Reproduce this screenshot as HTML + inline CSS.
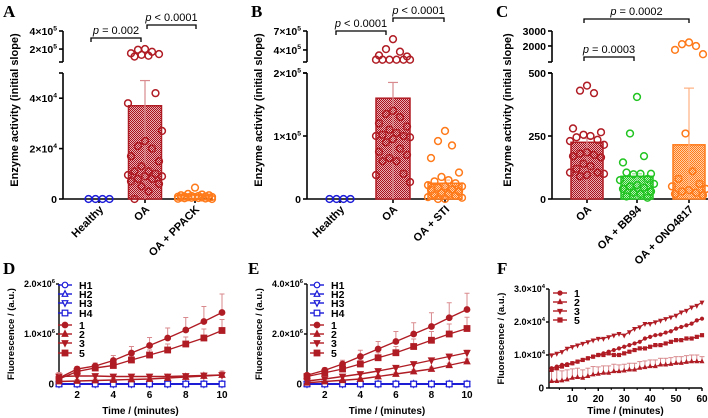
<!DOCTYPE html>
<html><head><meta charset="utf-8"><style>
html,body{margin:0;padding:0;background:#fff;}
svg{display:block;font-family:"Liberation Sans",sans-serif;}
</style></head><body>
<svg id="fig" width="708" height="418" viewBox="0 0 708 418" xmlns="http://www.w3.org/2000/svg">
<defs>
<pattern id="hatRed" width="2" height="2" patternUnits="userSpaceOnUse"><rect width="2" height="2" fill="#e8b0b4"/><rect width="1" height="1" fill="#a8101c"/><rect x="1" y="1" width="1" height="1" fill="#a8101c"/></pattern>
<pattern id="hatOrange" width="2" height="2" patternUnits="userSpaceOnUse"><rect width="2" height="2" fill="#ffd0a8"/><rect width="1" height="1" fill="#ff7a1a"/><rect x="1" y="1" width="1" height="1" fill="#ff7a1a"/></pattern>
<pattern id="hatGreen" width="2" height="2" patternUnits="userSpaceOnUse"><rect width="2" height="2" fill="#b8f0b8"/><rect width="1" height="1" fill="#22c422"/><rect x="1" y="1" width="1" height="1" fill="#22c422"/></pattern>
</defs>
</svg>
<script>
// ---------- DATA ----------
const catsA = ["Healthy","OA","OA + PPACK"];
const healthyA = [0,0,0,0];
const oaA = [200000,195000,180000,170000,165000,160000,155000,150000,42000,38000,27000,23000,21000,20000,17000,15000,13000,11000,11000,10000,9500,9000,9000,8000,8000,7000,6000,5000,3000,0];
const ppackA = [4500,2000,1800,1500,1500,1200,1200,1000,1000,900,800,800,700,600,600,500,500,400,300,200,100,0];
const barsA = [0,37000,1000];
const errA = [0,47000,1400];

const catsB = ["Healthy","OA","OA + STI"];
const healthyB = [0,0,0,0];
const oaB = [550000,410000,380000,340000,330000,300000,300000,300000,300000,300000,300000,140000,135000,130000,120000,115000,110000,105000,102000,100000,100000,98000,95000,90000,80000,75000,70000,65000,60000,60000,40000,38000,27000];
const stiB = [108000,92000,85000,65000,42000,35000,30000,28000,25000,22000,20000,20000,18000,15000,15000,12000,10000,8000,6000,5000,3000,2000,0,0];
const barsB = [0,160000,25000];
const errB = [0,185000,30000];

const catsC = ["OA","OA + BB94","OA + ONO4817"];
const oaC = [450,430,420,280,265,255,250,245,235,230,215,185,180,175,170,165,140,130,120,105,105,100,95,90];
const bbC = [405,260,170,145,100,98,100,105,80,75,60,55,50,45,40,30,25,20,10,5];
const onoC = [2200,2100,2000,1800,1600,260,110,80,60,50,40,35,30,25,20,15];
const barsC = [225,90,215];
const errC = [240,100,440];

const timeDE = [1,2,3,4,5,6,7,8,9,10];
const d1 = [0.12,0.3,0.36,0.47,0.62,0.77,0.92,1.08,1.25,1.43];
const d2 = [0.05,0.06,0.07,0.08,0.09,0.1,0.12,0.14,0.16,0.18];
const d3 = [0.15,0.16,0.16,0.15,0.15,0.15,0.15,0.16,0.17,0.18];
const d5 = [0.1,0.25,0.32,0.37,0.48,0.58,0.68,0.8,0.92,1.07];
const d1e = [0.1,0.05,0.06,0.1,0.13,0.16,0.2,0.25,0.3,0.37];
const d5e = [0.06,0.05,0.05,0.06,0.08,0.1,0.12,0.14,0.18,0.22];
const d2e = [0.03,0.03,0.03,0.03,0.03,0.03,0.04,0.05,0.06,0.08];
const d3e = [0.08,0.05,0.04,0.04,0.04,0.04,0.04,0.04,0.05,0.06];
const dH = [0,0,0,0,0,0,0,0,0,0];

const e1 = [0.35,0.55,0.8,1.1,1.4,1.7,2.0,2.3,2.65,2.98];
const e2 = [0.05,0.1,0.15,0.2,0.3,0.4,0.5,0.6,0.75,0.9];
const e3 = [0.12,0.2,0.3,0.4,0.52,0.65,0.8,0.95,1.1,1.25];
const e5 = [0.3,0.45,0.6,0.8,1.05,1.25,1.5,1.75,2.0,2.22];
const e1e = [0.05,0.1,0.15,0.25,0.3,0.4,0.45,0.55,0.6,0.65];
const e5e = [0.04,0.08,0.1,0.15,0.2,0.25,0.3,0.35,0.4,0.45];
const e3e = [0.03,0.04,0.05,0.05,0.06,0.07,0.08,0.08,0.1,0.1];
const e2e = [0.02,0.03,0.04,0.04,0.05,0.05,0.06,0.07,0.08,0.1];

const timeF = [2,4,6,8,10,12,14,16,18,20,22,24,26,28,30,32,34,36,38,40,42,44,46,48,50,52,54,56,58,60];
const f3 = [1.0,1.05,1.1,1.2,1.25,1.3,1.35,1.4,1.45,1.5,1.5,1.55,1.6,1.65,1.6,1.7,1.8,1.85,1.95,1.95,2.0,2.05,2.1,2.15,2.2,2.3,2.35,2.45,2.5,2.6];
const f1 = [0.6,0.65,0.7,0.72,0.75,0.8,0.85,0.9,0.95,1.0,1.05,1.1,1.15,1.2,1.25,1.3,1.35,1.4,1.5,1.55,1.6,1.62,1.68,1.72,1.8,1.85,1.9,1.95,2.05,2.1];
const f5 = [0.55,0.6,0.65,0.7,0.75,0.8,0.85,0.9,0.95,1.0,1.0,1.05,1.0,1.0,1.05,1.1,1.15,1.2,1.2,1.25,1.3,1.3,1.35,1.4,1.45,1.45,1.5,1.5,1.55,1.6];
const f2 = [0.2,0.2,0.22,0.25,0.3,0.32,0.3,0.35,0.4,0.42,0.45,0.45,0.5,0.5,0.52,0.55,0.55,0.6,0.62,0.65,0.65,0.7,0.7,0.72,0.75,0.75,0.78,0.8,0.8,0.8];
const f2e = [0.35,0.35,0.3,0.3,0.28,0.28,0.25,0.25,0.25,0.22,0.22,0.22,0.22,0.2,0.2,0.2,0.2,0.2,0.2,0.2,0.2,0.2,0.2,0.2,0.2,0.2,0.2,0.2,0.2,0.15];

// ---------- HELPERS ----------
const NS = "http://www.w3.org/2000/svg";
const svg = document.getElementById('fig');
const RED = "#b01c24", LRED = "#d88a8e", BLUE = "#1a1ad8", ORANGE = "#ff7a1a", GREEN = "#22c422";
function mk(tag, attrs, parent){
  const e = document.createElementNS(NS, tag);
  for (const k in attrs) e.setAttribute(k, attrs[k]);
  (parent || svg).appendChild(e);
  return e;
}
function line(x1,y1,x2,y2,stroke,w,g){ return mk('line',{x1,y1,x2,y2,stroke,'stroke-width':w},g); }
function txt(x,y,s,size,anchor,g,extra){
  const t = mk('text',Object.assign({x,y,'font-size':size,'font-weight':'bold','text-anchor':anchor||'middle',fill:'#000'},extra||{}),g);
  t.textContent = s; return t;
}
function sciLabel(x,y,mant,exp,g,size){
  size = size||10.5;
  const t = mk('text',{x,y,'font-size':size,'font-weight':'bold','text-anchor':'end',fill:'#000'},g);
  t.appendChild(document.createTextNode(mant+"×10"));
  const sp = mk('tspan',{'font-size':size*0.65,dy:-size*0.45},t);
  sp.textContent = exp;
  return t;
}
const jit = [0,-7,7,-14,14,-3.5,3.5,-10.5,10.5,-17,17];

// ---------- BAR PANELS ----------
function barPanel(cfg){
  const g = mk('g',{});
  
  
  const yLow = v => 199 - v/cfg.lowMax*126;
  const yUp = v => cfg.upRefY - (Math.log10(v)-Math.log10(cfg.upRef))*cfg.ppd;
  const y = v => v > cfg.lowMax ? yUp(v) : yLow(v);
  const ax = cfg.ax;
  const xc = i => cfg.xs[i];
  const L = mk('text',{x:cfg.letterX,y:17,'font-size':17,'font-weight':'bold','font-family':'"Liberation Serif",serif'},g);
  L.textContent = cfg.letter;
  
  
  const ya = mk('g',{},g);
  
  
  line(ax,199,ax,73,'#000',1.6,ya);
  line(ax,62,ax,31,'#000',1.6,ya);
  line(ax-4,73,ax,73,'#000',1.6,ya);
  line(ax-4,62,ax,62,'#000',1.6,ya);
  cfg.lowTicks.forEach((v,i)=>{
    line(ax-4,yLow(v),ax,yLow(v),'#000',1.6,ya);
    const lb = cfg.lowLabels[i];
    if (lb[1]) sciLabel(ax-6,yLow(v)+4,lb[0],lb[1],ya); else txt(ax-6,yLow(v)+4,lb[0],10.5,'end',ya);
  });
  cfg.upTicks.forEach((v,i)=>{
    line(ax-4,yUp(v),ax,yUp(v),'#000',1.6,ya);
    const lb = cfg.upLabels[i];
    if (lb[1]) sciLabel(ax-6,yUp(v)+4,lb[0],lb[1],ya); else txt(ax-6,yUp(v)+4,lb[0],10.5,'end',ya);
  });
  const yt = txt(0,0,"Enzyme activity (initial slope)",11,'middle',g,{transform:`translate(${cfg.titleX},110) rotate(-90)`});
  
  
  const xa = mk('g',{},g);
  
  
  line(ax,199,cfg.xEnd,199,'#000',1.6,xa);
  cfg.cats.forEach((c,i)=>{
    line(xc(i),199,xc(i),203,'#000',1.6,xa);
    const t = txt(0,0,c,11,'end',xa,{transform:`translate(${xc(i)+5},210) rotate(-45)`});
    
    
  });
  cfg.bars.forEach((v,i)=>{
    if (v<=0 || !cfg.fills[i]) return;
    const b = mk('rect',{x:xc(i)-cfg.bw/2,y:yLow(v),width:cfg.bw,height:199-yLow(v),fill:cfg.fills[i],stroke:cfg.colors[i],'stroke-width':1.5},g);
    
    
    const ev = cfg.errs[i];
    const ey = ev > cfg.lowMax ? yUp(ev) : yLow(ev);
    const eb = mk('g',{},g);
    
    
    line(xc(i),199,xc(i),ey,cfg.lcolors[i],1.2,eb);
    line(xc(i)-5,ey,xc(i)+5,ey,cfg.lcolors[i],1.2,eb);
  });
  cfg.groups.forEach((arr,i)=>{
    const pg = mk('g',{},g);
    
    
    arr.forEach((v,k)=>{
      const off = arr===cfg.groups[0] && cfg.healthyFirst ? (k-1.5)*7 : jit[k%jit.length];
      const c = mk('circle',{cx:xc(i)+off,cy:y(v),r:3.4,fill:'none',stroke:cfg.colors[i],'stroke-width':1.5},pg);
      
      
    });
  });
  cfg.brackets.forEach(br=>{
    const bg = mk('g',{},g);
    
    
    mk('polyline',{points:`${br[0]},${br[2]+4} ${br[0]},${br[2]} ${br[1]},${br[2]} ${br[1]},${br[2]+4}`,fill:'none',stroke:'#000','stroke-width':1.3},bg);
    const t = mk('text',{x:(br[0]+br[1])/2,y:br[2]-4,'font-size':11,'text-anchor':'middle',fill:'#000'},bg);
    const p = mk('tspan',{'font-style':'italic'},t); p.textContent='p';
    t.appendChild(document.createTextNode(br[3]));
  });
}

barPanel({name:'panel-a',letter:'A',letterX:3,ax:63,xEnd:213,titleX:18,lowMax:50000,upRef:400000,upRefY:31,ppd:60,
  lowTicks:[0,20000,40000],lowLabels:[["0"],["2","4"],["4","4"]],upTicks:[200000,400000],upLabels:[["2","5"],["4","5"]],
  cats:catsA,xs:[99,145,195],bw:33,bars:barsA,errs:errA,fills:[null,'url(#hatRed)',null],colors:[BLUE,RED,ORANGE],lcolors:[BLUE,LRED,'#ffb080'],
  groups:[healthyA,oaA,ppackA],healthyFirst:true,
  brackets:[[91,141,38," = 0.002"],[147,196,25," < 0.0001"]]});
barPanel({name:'panel-b',letter:'B',letterX:251,ax:307,xEnd:462,titleX:262,lowMax:200000,upRef:700000,upRefY:31,ppd:78,
  lowTicks:[0,100000,200000],lowLabels:[["0"],["1","5"],["2","5"]],upTicks:[400000,700000],upLabels:[["4","5"],["7","5"]],
  cats:catsB,xs:[340,393,445],bw:34,bars:barsB,errs:errB,fills:[null,'url(#hatRed)','url(#hatOrange)'],colors:[BLUE,RED,ORANGE],lcolors:[BLUE,LRED,'#ffb080'],
  groups:[healthyB,oaB,stiB],healthyFirst:true,
  brackets:[[336,386,31," < 0.0001"],[393,444,18," < 0.0001"]]});
barPanel({name:'panel-c',letter:'C',letterX:496,ax:552,xEnd:708,titleX:511,lowMax:500,upRef:3000,upRefY:31,ppd:85,
  lowTicks:[0,250,500],lowLabels:[["0"],["250"],["500"]],upTicks:[2000,3000],upLabels:[["2000"],["3000"]],
  cats:catsC,xs:[587,637,689],bw:32,bars:barsC,errs:errC,fills:['url(#hatRed)','url(#hatGreen)','url(#hatOrange)'],colors:[RED,GREEN,ORANGE],lcolors:[LRED,'#90e090','#ffb080'],
  groups:[oaC,bbC,onoC],healthyFirst:false,
  brackets:[[584,634,57," = 0.0003"],[584,689,19," = 0.0002"]]});

// ---------- LINE PANELS ----------
function marker(g,shape,x,y,color,filled,s){
  s = s||3;
  let e;
  const f = filled?color:'#fff';
  if (shape==='circle') e = mk('circle',{cx:x,cy:y,r:s,fill:f,stroke:color,'stroke-width':1.2},g);
  else if (shape==='up') e = mk('polygon',{points:`${x},${y-s-0.5} ${x-s},${y+s-0.5} ${x+s},${y+s-0.5}`,fill:f,stroke:color,'stroke-width':1.2},g);
  else if (shape==='down') e = mk('polygon',{points:`${x},${y+s+0.5} ${x-s},${y-s+0.5} ${x+s},${y-s+0.5}`,fill:f,stroke:color,'stroke-width':1.2},g);
  else e = mk('rect',{x:x-s,y:y-s,width:2*s,height:2*s,fill:f,stroke:color,'stroke-width':1.2},g);
  
  
}
function linePanel(cfg){
  const g = mk('g',{});
  
  
  const X = v => cfg.ax + (v-cfg.xmin)/(cfg.xmax-cfg.xmin)*(cfg.xEnd-cfg.ax);
  const Y = v => cfg.y0 - v/cfg.ymax*(cfg.y0-cfg.yTop);
  const L = mk('text',{x:cfg.letterX,y:274,'font-size':17,'font-weight':'bold','font-family':'"Liberation Serif",serif'},g);
  L.textContent = cfg.letter;
  
  
  const ya = mk('g',{},g);
  
  
  line(cfg.ax,cfg.y0,cfg.ax,cfg.yTop,'#000',1.4,ya);
  cfg.yTicks.forEach((v,i)=>{
    line(cfg.ax-3,Y(v),cfg.ax,Y(v),'#000',1.4,ya);
    const lb = cfg.yLabels[i];
    if (lb[1]) sciLabel(cfg.ax-4,Y(v)+3,lb[0],lb[1],ya,9); else txt(cfg.ax-5,Y(v)+3.5,lb[0],10,'end',ya);
  });
  const yt = txt(0,0,"Fluorescence / (a.u.)",9.5,'middle',g,{transform:`translate(${cfg.titleX},${(cfg.y0+cfg.yTop)/2}) rotate(-90)`});
  
  
  const xa = mk('g',{},g);
  
  
  line(cfg.ax,cfg.y0,cfg.xEnd,cfg.y0,'#000',1.4,xa);
  cfg.xTicks.forEach(v=>{
    line(X(v),cfg.y0,X(v),cfg.y0+3,'#000',1.4,xa);
    txt(X(v),cfg.y0+14,String(v),10,'middle',xa);
  });
  cfg.xMinor.forEach(v=>line(X(v),cfg.y0,X(v),cfg.y0+2,'#000',1,xa));
  const xt = txt((cfg.ax+cfg.xEnd)/2,414,"Time / (minutes)",10,'middle',g);
  
  
  cfg.series.forEach(s=>{
    const sg = mk('g',{},g);
    
    
    if (s.err) s.vals.forEach((v,k)=>{
      const x = X(cfg.xs[k]), y1 = Y(v), y2 = Y(v+s.err[k]);
      line(x,y1,x,y2,LRED,1,sg);
      line(x-2.5,y2,x+2.5,y2,LRED,1,sg);
    });
    mk('polyline',{points:s.vals.map((v,k)=>X(cfg.xs[k])+','+Y(v)).join(' '),fill:'none',stroke:s.color,'stroke-width':cfg.lw||1.4},sg);
    s.vals.forEach((v,k)=>marker(sg,s.shape,X(cfg.xs[k]),Y(v),s.color,s.filled,cfg.ms));
  });
  const lg = mk('g',{},g);
  
  
  cfg.legend.forEach((s,i)=>{
    const y = cfg.legY[i];
    const eg = mk('g',{},lg);
    
    
    line(cfg.legX-7,y,cfg.legX+7,y,s.color,1.4,eg);
    marker(eg,s.shape,cfg.legX,y,s.color,s.filled,cfg.legMs||2.8);
    txt(cfg.legX+14,y+4,s.label,10.5,'start',eg);
  });
}
const legDE = [
  {label:'H1',shape:'circle',color:BLUE,filled:false},{label:'H2',shape:'up',color:BLUE,filled:false},
  {label:'H3',shape:'down',color:BLUE,filled:false},{label:'H4',shape:'square',color:BLUE,filled:false},
  {label:'1',shape:'circle',color:RED,filled:true},{label:'2',shape:'up',color:RED,filled:true},
  {label:'3',shape:'down',color:RED,filled:true},{label:'5',shape:'square',color:RED,filled:true}];
const legYDE = [285,294,303,313,325,334,343,353];
linePanel({name:'panel-d',letter:'D',letterX:3,ax:59,xEnd:222,xmin:1,xmax:10,y0:384,yTop:284,ymax:2.0,titleX:14,
  yTicks:[0,1.0,2.0],yLabels:[["0"],["1.0","6"],["2.0","6"]],xTicks:[2,4,6,8,10],xMinor:[1,3,5,7,9],xs:timeDE,ms:2.8,
  series:[
    {label:'H1',vals:dH,shape:'circle',color:BLUE,filled:false},{label:'H2',vals:dH,shape:'up',color:BLUE,filled:false},
    {label:'H3',vals:dH,shape:'down',color:BLUE,filled:false},{label:'H4',vals:dH,shape:'square',color:BLUE,filled:false},
    {label:'2',vals:d2,err:d2e,shape:'up',color:RED,filled:true},{label:'3',vals:d3,err:d3e,shape:'down',color:RED,filled:true},
    {label:'5',vals:d5,err:d5e,shape:'square',color:RED,filled:true},{label:'1',vals:d1,err:d1e,shape:'circle',color:RED,filled:true}],
  legend:legDE,legX:65,legY:legYDE});
linePanel({name:'panel-e',letter:'E',letterX:248,ax:307,xEnd:467,xmin:1,xmax:10,y0:384,yTop:284,ymax:4.0,titleX:262,
  yTicks:[0,2.0,4.0],yLabels:[["0"],["2.0","6"],["4.0","6"]],xTicks:[2,4,6,8,10],xMinor:[1,3,5,7,9],xs:timeDE,ms:2.8,
  series:[
    {label:'H1',vals:dH,shape:'circle',color:BLUE,filled:false},{label:'H2',vals:dH,shape:'up',color:BLUE,filled:false},
    {label:'H3',vals:dH,shape:'down',color:BLUE,filled:false},{label:'H4',vals:dH,shape:'square',color:BLUE,filled:false},
    {label:'2',vals:e2,err:e2e,shape:'up',color:RED,filled:true},{label:'3',vals:e3,err:e3e,shape:'down',color:RED,filled:true},
    {label:'5',vals:e5,err:e5e,shape:'square',color:RED,filled:true},{label:'1',vals:e1,err:e1e,shape:'circle',color:RED,filled:true}],
  legend:legDE,legX:317,legY:legYDE});
linePanel({name:'panel-f',letter:'F',letterX:497,ax:549,xEnd:702,xmin:1,xmax:60,y0:388,yTop:289,ymax:3.0,titleX:504,
  yTicks:[0,1.0,2.0,3.0],yLabels:[["0"],["1.0","4"],["2.0","4"],["3.0","4"]],xTicks:[10,20,30,40,50,60],xMinor:[5,15,25,35,45,55],xs:timeF,ms:1.5,lw:1.2,
  series:[
    {label:'2',vals:f2,err:f2e,shape:'up',color:RED,filled:true},{label:'5',vals:f5,shape:'square',color:RED,filled:true},
    {label:'1',vals:f1,shape:'circle',color:RED,filled:true},{label:'3',vals:f3,shape:'down',color:RED,filled:true}],
  legend:[{label:'1',shape:'circle',color:RED,filled:true},{label:'2',shape:'up',color:RED,filled:true},
    {label:'3',shape:'down',color:RED,filled:true},{label:'5',shape:'square',color:RED,filled:true}],
  legX:560,legY:[293,302,311,320],legMs:2});
</script>
</body></html>
